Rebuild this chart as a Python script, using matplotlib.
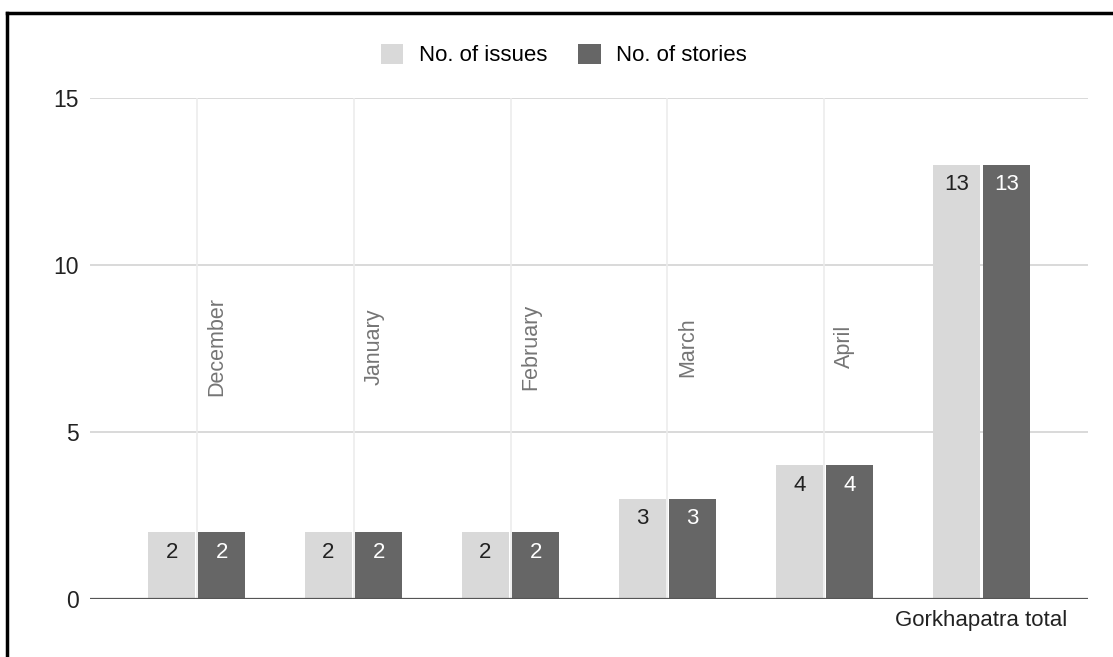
import matplotlib.pyplot as plt
import numpy as np
from matplotlib.lines import Line2D

plt.rcParams['font.family'] = ['Liberation Sans', 'DejaVu Sans']

months = ["December", "January", "February", "March", "April", "Gorkhapatra total"]
issues = [2, 2, 2, 3, 4, 13]
stories = [2, 2, 2, 3, 4, 13]

light = "#d9d9d9"
dark = "#666666"

fig = plt.figure(figsize=(11.13, 6.57), dpi=100)
ax = fig.add_axes([90/1113, 1-599/657, 998/1113, 501/657])

x = np.arange(len(months))
w = 0.3
off = 0.16
b1 = ax.bar(x - off, issues, w, color=light, label="No. of issues", zorder=3)
b2 = ax.bar(x + off, stories, w, color=dark, label="No. of stories", zorder=3)

for r, v in zip(b1, issues):
    ax.text(r.get_x() + r.get_width()/2, v - 0.6, str(v), ha="center", va="center",
            fontsize=16, color="#222222", zorder=4)
for r, v in zip(b2, stories):
    ax.text(r.get_x() + r.get_width()/2, v - 0.6, str(v), ha="center", va="center",
            fontsize=16, color="white", zorder=4)

# category labels (Sheets-style placement)
for i, m in enumerate(months[:-1]):
    ax.text(i + 0.13, 7.55, m, rotation=90, ha="center", va="center",
            fontsize=15.5, color="#757575", zorder=2)
ax.text(x[-1], -0.63, months[-1], ha="center", va="center", fontsize=16, color="#222222")

ax.set_xlim(-0.68, 5.68)
ax.set_ylim(0, 15)
ax.set_yticks([0, 5, 10, 15])
ax.set_xticks([])
for yv in [5, 10, 15]:
    ax.axhline(yv, color="#d3d3d3", lw=1.2, zorder=1)
for xv in x[:-1]:
    ax.axvline(xv, color="#ececec", lw=1.2, zorder=1)
ax.axhline(0, color="#555555", lw=1.6, zorder=5)
for s in ax.spines.values():
    s.set_visible(False)
ax.tick_params(axis="y", length=0, labelsize=16.5, colors="#222222", pad=8)

ax.legend(loc="center", bbox_to_anchor=(0.5 - 25/998, 1 + 43/501), ncol=2, frameon=False,
          fontsize=16, handlelength=1.0, handleheight=1.0, columnspacing=1.4,
          handletextpad=0.7)

fig.add_artist(Line2D([7/1113, 1], [1-13/657, 1-13/657], color="black", lw=2.5))
fig.add_artist(Line2D([7/1113, 7/1113], [0, 1-13/657], color="black", lw=2.5))

fig.savefig("out.png", dpi=100)
